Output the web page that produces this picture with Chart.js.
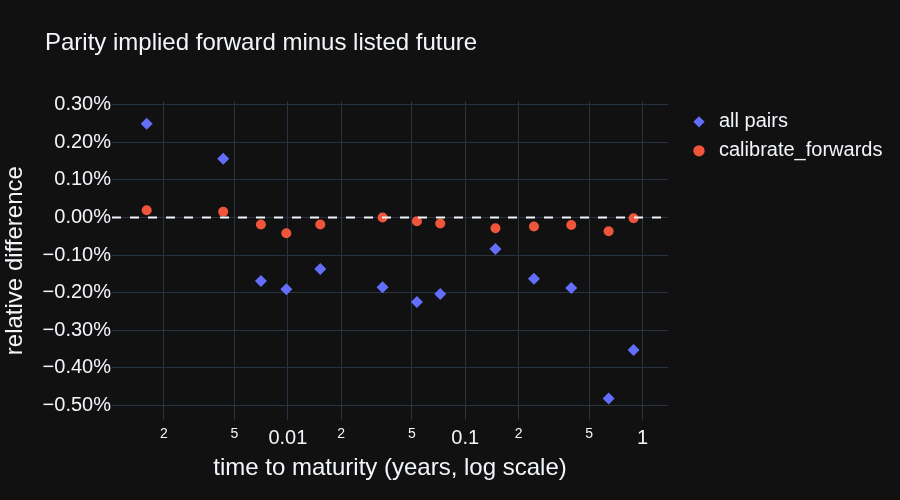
<!DOCTYPE html>
<html>
<head>
<meta charset="utf-8">
<title>Parity implied forward minus listed future</title>
<script src="https://cdn.jsdelivr.net/npm/chart.js@4/dist/chart.umd.min.js"></script>
<style>
    html, body { margin: 0; padding: 0; background: #111111; }
    #wrap { width: 900px; height: 500px; }
</style>
</head>
<body>
<div id="wrap"><canvas id="parityChart" width="900" height="500"></canvas></div>
<script>
// time to maturity in years
const maturities = [0.00160, 0.00432, 0.00705, 0.00980, 0.01524, 0.0342, 0.0534, 0.0723, 0.148, 0.244, 0.396, 0.643, 0.889];
// relative difference (fraction), all put/call pairs
const allPairs = [0.00249, 0.00156, -0.00169, -0.00191, -0.00137, -0.00186, -0.00225, -0.00204, -0.00084, -0.00163, -0.00188, -0.00482, -0.00353];
// relative difference (fraction), calibrate_forwards
const calibrated = [0.00019, 0.00015, -0.00019, -0.00042, -0.00019, 0.00000, -0.00010, -0.00016, -0.00029, -0.00024, -0.00020, -0.00037, -0.00002];

const xRange = [0.00102, 1.39];
const yRange = [-0.00539, 0.00309];
const xTicks = [0.002, 0.005, 0.01, 0.02, 0.05, 0.1, 0.2, 0.5, 1];
const yTicks = [-0.005, -0.004, -0.003, -0.002, -0.001, 0, 0.001, 0.002, 0.003];

const textColor = '#f2f5fa';
const gridColor = '#283442';

function isDecade(value) {
    const l = Math.log10(value);
    return Math.abs(l - Math.round(l)) < 1e-9;
}

function formatPercent(value) {
    const s = (Math.abs(value) * 100).toFixed(2) + '%';
    return value < -1e-12 ? '\u2212' + s : s;
}

function toPoints(values) {
    return maturities.map(function (m, i) {
        return { x: m, y: values[i] };
    });
}

// place title and legend where the reference has them
const layoutTweaks = {
    id: 'layoutTweaks',
    beforeLayout(chart) {
        const legend = chart.legend;
        if (legend && !legend._fixedWidth) {
            const fit = legend.fit;
            legend.fit = function () {
                fit.call(this);
                this.width = 232;
            };
            legend._fixedWidth = true;
        }
    },
    afterLayout(chart) {
        if (chart.titleBlock) {
            chart.titleBlock.left = 45;
        }
        if (chart.legend) {
            const legend = chart.legend;
            const w = legend.width;
            legend.left = chart.chartArea.right + 12;
            legend.right = legend.left + w;
            legend.top = chart.chartArea.top + 1.5;
        }
    }
};

Chart.defaults.font.family = '"Liberation Sans", Arial, sans-serif';
Chart.defaults.color = textColor;

new Chart(document.getElementById('parityChart'), {
    type: 'scatter',
    data: {
        datasets: [{
            label: 'zero',
            type: 'line',
            data: [{ x: xRange[0], y: 0 }, { x: xRange[1], y: 0 }],
            borderColor: textColor,
            borderWidth: 2,
            borderDash: [9, 9],
            pointRadius: 0,
            fill: false,
            order: 0
        }, {
            label: 'all pairs',
            data: toPoints(allPairs),
            backgroundColor: '#636efa',
            pointStyle: 'rectRot',
            pointRadius: 6,
            borderWidth: 0,
            order: 1
        }, {
            label: 'calibrate_forwards',
            data: toPoints(calibrated),
            backgroundColor: '#ef553b',
            pointStyle: 'circle',
            pointRadius: 5,
            borderWidth: 0,
            order: 1
        }]
    },
    options: {
        responsive: false,
        animation: false,
        layout: { padding: 0 },
        plugins: {
            title: {
                display: true,
                text: 'Parity implied forward minus listed future',
                align: 'start',
                color: textColor,
                font: { size: 24, weight: 'normal' },
                padding: { top: 29, bottom: 43.5 }
            },
            legend: {
                position: 'right',
                align: 'start',
                labels: {
                    usePointStyle: true,
                    boxWidth: 20,
                    boxHeight: 8,
                    padding: 9,
                    color: textColor,
                    font: { size: 20 },
                    filter: function (item) {
                        return item.text !== 'zero';
                    }
                }
            },
            tooltip: { enabled: false }
        },
        scales: {
            x: {
                type: 'logarithmic',
                min: xRange[0],
                max: xRange[1],
                afterBuildTicks: function (scale) {
                    scale.ticks = xTicks.map(function (v) { return { value: v }; });
                },
                afterFit: function (scale) {
                    scale.height = 80;
                },
                grid: { color: gridColor, lineWidth: 1, drawTicks: false },
                border: { display: false },
                ticks: {
                    autoSkip: false,
                    maxRotation: 0,
                    padding: 6,
                    color: textColor,
                    font: function (ctx) {
                        return { size: ctx.tick && isDecade(ctx.tick.value) ? 20 : 14 };
                    },
                    callback: function (value) {
                        if (isDecade(value)) return String(value);
                        return String(Math.round(value / Math.pow(10, Math.floor(Math.log10(value)))));
                    }
                },
                title: {
                    display: true,
                    text: 'time to maturity (years, log scale)',
                    color: textColor,
                    font: { size: 24 },
                    padding: { top: 0, bottom: 17 }
                }
            },
            y: {
                min: yRange[0],
                max: yRange[1],
                afterBuildTicks: function (scale) {
                    scale.ticks = yTicks.map(function (v) { return { value: v }; });
                },
                afterFit: function (scale) {
                    scale.width = 112;
                },
                grid: { color: gridColor, lineWidth: 1, drawTicks: false },
                border: { display: false },
                ticks: {
                    padding: 1,
                    color: textColor,
                    font: { size: 20 },
                    callback: function (value) {
                        return formatPercent(value);
                    }
                },
                title: {
                    display: true,
                    text: 'relative difference',
                    color: textColor,
                    font: { size: 24 },
                    padding: { top: 1, bottom: 0 }
                }
            }
        }
    },
    plugins: [layoutTweaks]
});
</script>
</body>
</html>
